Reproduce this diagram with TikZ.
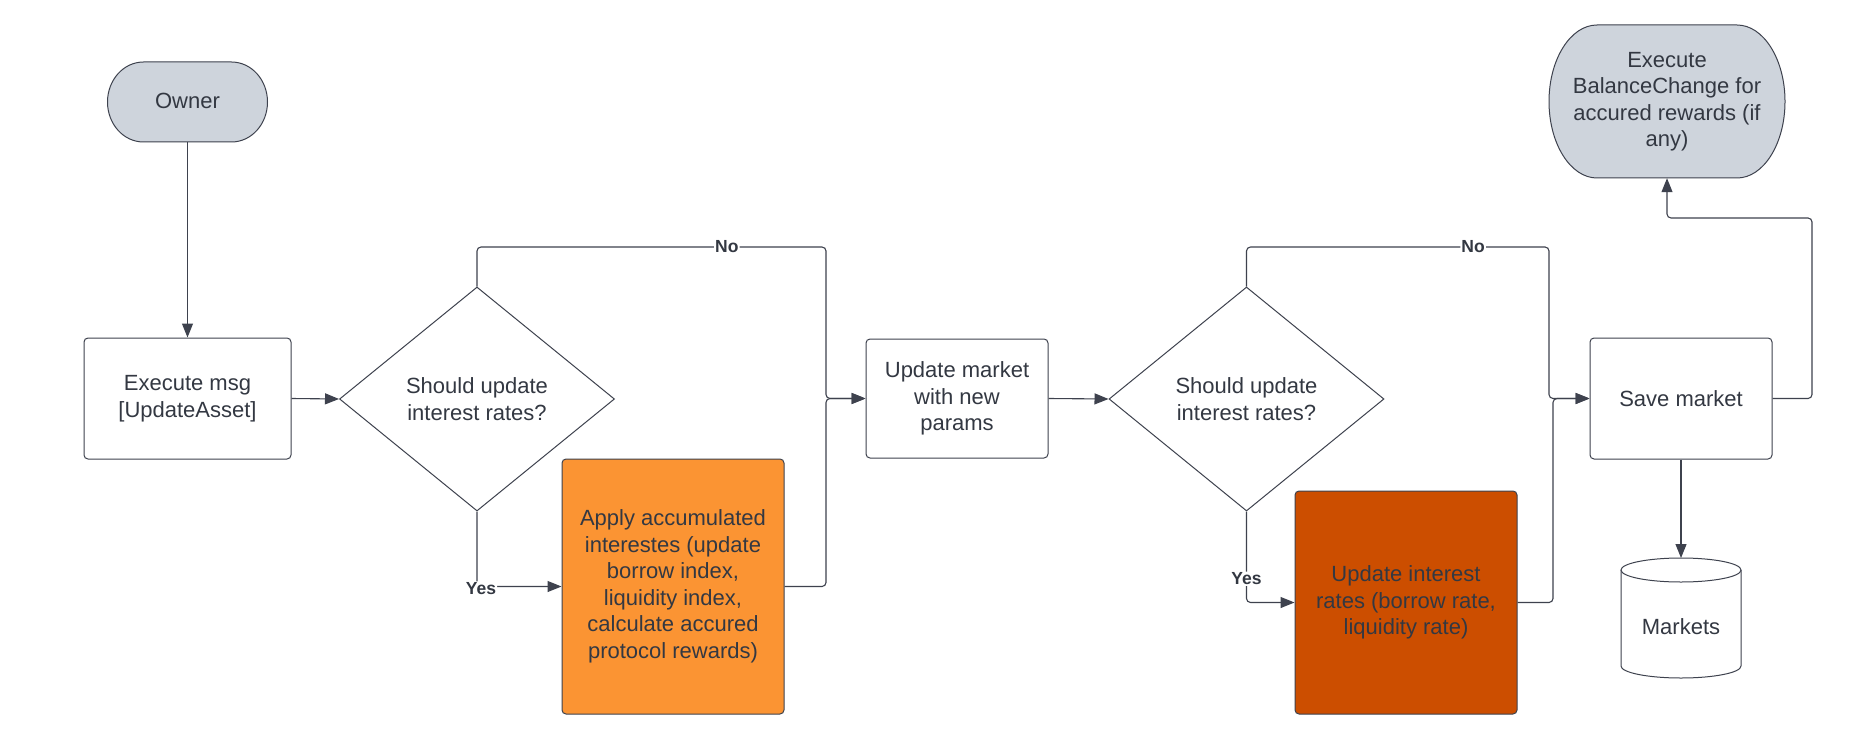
\documentclass[tikz,border=0pt]{standalone}
\usepackage{fontspec}
\setmainfont{Liberation Sans}
\usetikzlibrary{arrows.meta,shapes.geometric}
\definecolor{ln}{RGB}{62,66,78}
\definecolor{txt}{RGB}{51,56,66}
\definecolor{termfill}{RGB}{206,212,220}
\definecolor{orA}{RGB}{251,148,51}
\definecolor{orB}{RGB}{204,78,0}
\begin{document}
\begin{tikzpicture}[x=1pt,y=-1pt,
  every node/.style={text=txt, font=\fontsize{22}{26.5}\selectfont, inner sep=0pt, align=center},
  box/.style={draw=ln, line width=1pt, rounded corners=4pt, rectangle, fill=white},
  dec/.style={draw=ln, line width=1pt, diamond, aspect=1.23, fill=white},
  term/.style={rectangle},
  shp/.style={draw=ln, line width=1pt},
  conn/.style={draw=ln, line width=1.1pt, rounded corners=4pt, -{Triangle[length=14pt,width=11pt]}},
  lbl/.style={font=\fontsize{17.5}{20}\selectfont\bfseries, fill=white, inner sep=1pt, text=txt}
]
\useasboundingbox[fill=white] (0,0) rectangle (1870,738);

% terminal shape (Owner)
\path[shp, fill=termfill] (143.5,62) -- (231.5,62)
  .. controls (251.4,62) and (267.5,79.9) .. (267.5,102)
  .. controls (267.5,124.1) and (251.4,142) .. (231.5,142)
  -- (143.5,142)
  .. controls (123.6,142) and (107.5,124.1) .. (107.5,102)
  .. controls (107.5,79.9) and (123.6,62) .. (143.5,62) -- cycle;
% terminal shape (BalanceChange)
\path[shp, fill=termfill] (1597,25) -- (1737,25)
  .. controls (1763.5,25) and (1785,59.3) .. (1785,101.5)
  .. controls (1785,143.7) and (1763.5,178) .. (1737,178)
  -- (1597,178)
  .. controls (1570.5,178) and (1549,143.7) .. (1549,101.5)
  .. controls (1549,59.3) and (1570.5,25) .. (1597,25) -- cycle;
% cylinder (Markets)
\path[shp, fill=white] (1621,570) -- (1621,666) arc[start angle=180, end angle=360, x radius=60pt, y radius=12pt] -- (1741,570);
\path[shp, fill=white] (1681,570) ellipse[x radius=60pt, y radius=12pt];
\coordinate (mtop) at (1681,558);

% nodes
\node[term, minimum width=160pt, minimum height=80pt] (owner) at (187.5,101) {Owner};
\node[term, minimum width=236pt, minimum height=153pt] (bal) at (1667,101.5) {Execute\\BalanceChange for\\accured rewards (if\\any)};
\node[box, minimum width=207pt, minimum height=121pt] (exec) at (187.5,398.5) {Execute msg\\{[}UpdateAsset{]}};
\node[dec, minimum width=275pt, minimum height=224pt] (d1) at (477,399) {Should update\\interest rates?};
\node[box, fill=orA, minimum width=222pt, minimum height=255pt] (acc) at (673,586.5) {Apply accumulated\\interestes (update\\borrow index,\\liquidity index,\\calculate accured\\protocol rewards)};
\node[box, minimum width=182pt, minimum height=119pt] (upd) at (957,398.5) {Update market\\with new\\params};
\node[dec, minimum width=275pt, minimum height=224pt] (d2) at (1246.5,399) {Should update\\interest rates?};
\node[box, fill=orB, minimum width=222pt, minimum height=223pt] (rates) at (1406,602.5) {Update interest\\rates (borrow rate,\\liquidity rate)};
\node[box, minimum width=182pt, minimum height=121pt] (save) at (1681,398.5) {Save market};
\node[term, minimum width=120pt, minimum height=60pt] (markets) at (1681,627) {Markets};

% connectors
\draw[conn] (owner.south) ++(0,1) -- (exec.north);
\draw[conn] (exec.east) -- (d1.west);
\draw[conn] (d1.north) -- (477,247) -- node[lbl, pos=0.716]{No} (826,247) -- (826,398.5) -- (upd.west);
\draw[conn] (d1.south) -- (477,586.5) node[lbl, xshift=4pt, yshift=-2pt]{Yes} -- (acc.west);
\draw[conn] (acc.east) -- (826,586.5) -- (826,398.5) -- (upd.west);
\draw[conn] (upd.east) -- (d2.west);
\draw[conn] (d2.north) -- (1246.5,247) -- node[lbl, pos=0.749]{No} (1549,247) -- (1549,398.5) -- (save.west);
\draw[conn] (d2.south) -- node[lbl, pos=0.74]{Yes} (1246.5,602.5) -- (rates.west);
\draw[conn] (rates.east) -- (1553,602.5) -- (1553,398.5) -- (save.west);
\draw[conn] (save.east) -- (1812,398.5) -- (1812,218) -- (1667,218) -- (bal.south);
\draw[conn] (save.south) -- (mtop);
\end{tikzpicture}
\end{document}
